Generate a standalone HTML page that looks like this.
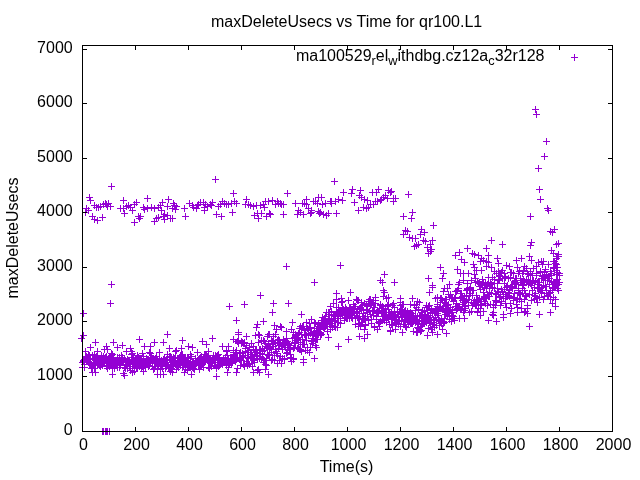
<!DOCTYPE html>
<html><head><meta charset="utf-8"><title>maxDeleteUsecs vs Time for qr100.L1</title>
<style>
html,body{margin:0;padding:0;background:#fff;}
svg{display:block;will-change:transform;}
text{font-family:"Liberation Sans",sans-serif;font-size:16px;fill:#000;}
</style></head><body>
<svg width="640" height="480" viewBox="0 0 640 480">
<rect width="640" height="480" fill="#fff"/>

<text x="72.7" y="435.0" text-anchor="end">0</text>
<text x="72.7" y="380.0" text-anchor="end">1000</text>
<text x="72.7" y="325.0" text-anchor="end">2000</text>
<text x="72.7" y="271.0" text-anchor="end">3000</text>
<text x="72.7" y="216.0" text-anchor="end">4000</text>
<text x="72.7" y="162.0" text-anchor="end">5000</text>
<text x="72.7" y="107.0" text-anchor="end">6000</text>
<text x="72.7" y="53.0" text-anchor="end">7000</text>
<text x="83.5" y="450" text-anchor="middle">0</text>
<text x="136.5" y="450" text-anchor="middle">200</text>
<text x="189.5" y="450" text-anchor="middle">400</text>
<text x="242.5" y="450" text-anchor="middle">600</text>
<text x="295.5" y="450" text-anchor="middle">800</text>
<text x="348.5" y="450" text-anchor="middle">1000</text>
<text x="401.5" y="450" text-anchor="middle">1200</text>
<text x="454.5" y="450" text-anchor="middle">1400</text>
<text x="507.5" y="450" text-anchor="middle">1600</text>
<text x="560.5" y="450" text-anchor="middle">1800</text>
<text x="613.5" y="450" text-anchor="middle">2000</text>
<text x="346.6" y="27" text-anchor="middle">maxDeleteUsecs vs Time for qr100.L1</text>
<text x="346.5" y="472" text-anchor="middle">Time(s)</text>
<text transform="translate(17.5,238) rotate(-90)" text-anchor="middle">maxDeleteUsecs</text>
<text x="544.5" y="60.5" text-anchor="end">ma100529<tspan font-size="12.8px" dy="4.8">r</tspan><tspan dy="-4.8">el</tspan><tspan font-size="12.8px" dy="4.8">w</tspan><tspan dy="-4.8">ithdbg.cz12a</tspan><tspan font-size="12.8px" dy="4.8">c</tspan><tspan dy="-4.8">32r128</tspan></text>
<path stroke="#9400d3" stroke-width="1" fill="none" d="M571.0 57.5h7M574.5 54.0v7M108.0 186.5h7M111.5 183.0v7M86.0 197.5h7M89.5 194.0v7M87.0 200.5h7M90.5 197.0v7M83.0 208.5h7M86.5 205.0v7M82.0 212.5h7M85.5 209.0v7M85.0 210.5h7M88.5 207.0v7M89.0 216.5h7M92.5 213.0v7M91.0 219.5h7M94.5 216.0v7M94.0 220.5h7M97.5 217.0v7M99.0 217.5h7M102.5 214.0v7M91.0 205.5h7M94.5 202.0v7M93.0 207.5h7M96.5 204.0v7M95.0 207.5h7M98.5 204.0v7M97.0 206.5h7M100.5 203.0v7M100.0 204.5h7M103.5 201.0v7M102.0 203.5h7M105.5 200.0v7M103.0 204.5h7M106.5 201.0v7M105.0 203.5h7M108.5 200.0v7M107.0 206.5h7M110.5 203.0v7M104.0 206.5h7M107.5 203.0v7M120.0 200.5h7M123.5 197.0v7M117.0 208.5h7M120.5 205.0v7M120.0 208.5h7M123.5 205.0v7M121.0 213.5h7M124.5 210.0v7M123.0 206.5h7M126.5 203.0v7M125.0 205.5h7M128.5 202.0v7M127.0 207.5h7M130.5 204.0v7M129.0 210.5h7M132.5 207.0v7M131.0 204.5h7M134.5 201.0v7M133.0 202.5h7M136.5 199.0v7M131.0 222.5h7M134.5 219.0v7M135.0 216.5h7M138.5 213.0v7M137.0 216.5h7M140.5 213.0v7M136.0 218.5h7M139.5 215.0v7M144.0 198.5h7M147.5 195.0v7M140.0 207.5h7M143.5 204.0v7M141.0 209.5h7M144.5 206.0v7M144.0 208.5h7M147.5 205.0v7M148.0 207.5h7M151.5 204.0v7M151.0 208.5h7M154.5 205.0v7M155.0 207.5h7M158.5 204.0v7M151.0 221.5h7M154.5 218.0v7M153.0 218.5h7M156.5 215.0v7M155.0 217.5h7M158.5 214.0v7M212.0 179.5h7M215.5 176.0v7M230.0 193.5h7M233.5 190.0v7M165.0 199.5h7M168.5 196.0v7M159.0 202.5h7M162.5 199.0v7M157.0 205.5h7M160.5 202.0v7M164.0 206.5h7M167.5 203.0v7M170.0 203.5h7M173.5 200.0v7M171.0 205.5h7M174.5 202.0v7M173.0 206.5h7M176.5 203.0v7M169.0 208.5h7M172.5 205.0v7M172.0 209.5h7M175.5 206.0v7M158.0 210.5h7M161.5 207.0v7M161.0 214.5h7M164.5 211.0v7M160.0 216.5h7M163.5 213.0v7M164.0 215.5h7M167.5 212.0v7M161.0 219.5h7M164.5 216.0v7M167.0 218.5h7M170.5 215.0v7M169.0 218.5h7M172.5 215.0v7M181.0 208.5h7M184.5 205.0v7M182.0 216.5h7M185.5 213.0v7M186.0 203.5h7M189.5 200.0v7M189.0 205.5h7M192.5 202.0v7M190.0 207.5h7M193.5 204.0v7M193.0 208.5h7M196.5 205.0v7M194.0 205.5h7M197.5 202.0v7M195.0 204.5h7M198.5 201.0v7M197.0 202.5h7M200.5 199.0v7M200.0 202.5h7M203.5 199.0v7M202.0 204.5h7M205.5 201.0v7M204.0 206.5h7M207.5 203.0v7M201.0 210.5h7M204.5 207.0v7M201.0 207.5h7M204.5 204.0v7M207.0 204.5h7M210.5 201.0v7M209.0 202.5h7M212.5 199.0v7M208.0 205.5h7M211.5 202.0v7M213.0 214.5h7M216.5 211.0v7M218.0 216.5h7M221.5 213.0v7M215.0 206.5h7M218.5 203.0v7M217.0 204.5h7M220.5 201.0v7M219.0 201.5h7M222.5 198.0v7M221.0 203.5h7M224.5 200.0v7M223.0 204.5h7M226.5 201.0v7M225.0 204.5h7M228.5 201.0v7M228.0 203.5h7M231.5 200.0v7M231.0 201.5h7M234.5 198.0v7M233.0 203.5h7M236.5 200.0v7M229.0 212.5h7M232.5 209.0v7M284.0 193.5h7M287.5 190.0v7M243.0 199.5h7M246.5 196.0v7M242.0 204.5h7M245.5 201.0v7M245.0 204.5h7M248.5 201.0v7M247.0 205.5h7M250.5 202.0v7M250.0 206.5h7M253.5 203.0v7M253.0 205.5h7M256.5 202.0v7M257.0 205.5h7M260.5 202.0v7M260.0 204.5h7M263.5 201.0v7M261.0 207.5h7M264.5 204.0v7M262.0 201.5h7M265.5 198.0v7M265.0 201.5h7M268.5 198.0v7M269.0 200.5h7M272.5 197.0v7M272.0 204.5h7M275.5 201.0v7M274.0 201.5h7M277.5 198.0v7M275.0 203.5h7M278.5 200.0v7M277.0 203.5h7M280.5 200.0v7M278.0 204.5h7M281.5 201.0v7M280.0 204.5h7M283.5 201.0v7M251.0 215.5h7M254.5 212.0v7M254.0 213.5h7M257.5 210.0v7M255.0 218.5h7M258.5 215.0v7M258.0 213.5h7M261.5 210.0v7M263.0 216.5h7M266.5 213.0v7M266.0 213.5h7M269.5 210.0v7M267.0 214.5h7M270.5 211.0v7M280.0 214.5h7M283.5 211.0v7M292.0 203.5h7M295.5 200.0v7M294.0 214.5h7M297.5 211.0v7M295.0 210.5h7M298.5 207.0v7M297.0 212.5h7M300.5 209.0v7M300.0 214.5h7M303.5 211.0v7M299.0 203.5h7M302.5 200.0v7M303.0 199.5h7M306.5 196.0v7M301.0 203.5h7M304.5 200.0v7M303.0 204.5h7M306.5 201.0v7M305.0 208.5h7M308.5 205.0v7M308.0 210.5h7M311.5 207.0v7M307.0 213.5h7M310.5 210.0v7M308.0 212.5h7M311.5 209.0v7M310.0 201.5h7M313.5 198.0v7M312.0 201.5h7M315.5 198.0v7M314.0 203.5h7M317.5 200.0v7M315.0 197.5h7M318.5 194.0v7M315.0 211.5h7M318.5 208.0v7M316.0 213.5h7M319.5 210.0v7M331.0 181.5h7M334.5 178.0v7M318.0 197.5h7M321.5 194.0v7M319.0 204.5h7M322.5 201.0v7M322.0 203.5h7M325.5 200.0v7M317.0 212.5h7M320.5 209.0v7M320.0 214.5h7M323.5 211.0v7M323.0 215.5h7M326.5 212.0v7M325.0 213.5h7M328.5 210.0v7M333.0 213.5h7M336.5 210.0v7M327.0 201.5h7M330.5 198.0v7M328.0 201.5h7M331.5 198.0v7M328.0 203.5h7M331.5 200.0v7M332.0 201.5h7M335.5 198.0v7M335.0 199.5h7M338.5 196.0v7M339.0 200.5h7M342.5 197.0v7M340.0 192.5h7M343.5 189.0v7M349.0 189.5h7M352.5 186.0v7M348.0 193.5h7M351.5 190.0v7M351.0 202.5h7M354.5 199.0v7M357.0 190.5h7M360.5 187.0v7M356.0 195.5h7M359.5 192.0v7M358.0 197.5h7M361.5 194.0v7M361.0 199.5h7M364.5 196.0v7M364.0 200.5h7M367.5 197.0v7M355.0 210.5h7M358.5 207.0v7M360.0 207.5h7M363.5 204.0v7M363.0 208.5h7M366.5 205.0v7M365.0 207.5h7M368.5 204.0v7M367.0 204.5h7M370.5 201.0v7M370.0 204.5h7M373.5 201.0v7M372.0 201.5h7M375.5 198.0v7M374.0 201.5h7M377.5 198.0v7M377.0 200.5h7M380.5 197.0v7M378.0 199.5h7M381.5 196.0v7M380.0 197.5h7M383.5 194.0v7M382.0 195.5h7M385.5 192.0v7M384.0 198.5h7M387.5 195.0v7M385.0 190.5h7M388.5 187.0v7M387.0 192.5h7M390.5 189.0v7M388.0 191.5h7M391.5 188.0v7M390.0 198.5h7M393.5 195.0v7M390.0 201.5h7M393.5 198.0v7M392.0 198.5h7M395.5 195.0v7M369.0 192.5h7M372.5 189.0v7M373.0 192.5h7M376.5 189.0v7M375.0 189.5h7M378.5 186.0v7M405.0 194.5h7M408.5 191.0v7M409.0 212.5h7M412.5 209.0v7M408.0 218.5h7M411.5 215.0v7M400.0 216.5h7M403.5 213.0v7M430.0 225.5h7M433.5 222.0v7M402.0 230.5h7M405.5 227.0v7M404.0 231.5h7M407.5 228.0v7M400.0 234.5h7M403.5 231.0v7M418.0 229.5h7M421.5 226.0v7M421.0 232.5h7M424.5 229.0v7M417.0 234.5h7M420.5 231.0v7M406.0 237.5h7M409.5 234.0v7M409.0 238.5h7M412.5 235.0v7M412.0 238.5h7M415.5 235.0v7M420.0 240.5h7M423.5 237.0v7M422.0 241.5h7M425.5 238.0v7M429.0 240.5h7M432.5 237.0v7M415.0 244.5h7M418.5 241.0v7M413.0 245.5h7M416.5 242.0v7M411.0 246.5h7M414.5 243.0v7M427.0 244.5h7M430.5 241.0v7M424.0 247.5h7M427.5 244.0v7M428.0 249.5h7M431.5 246.0v7M427.0 251.5h7M430.5 248.0v7M425.0 253.5h7M428.5 250.0v7M464.0 248.5h7M467.5 245.0v7M456.0 252.5h7M459.5 249.0v7M452.0 255.5h7M455.5 252.0v7M469.0 253.5h7M472.5 250.0v7M471.0 254.5h7M474.5 251.0v7M475.0 255.5h7M478.5 252.0v7M458.0 259.5h7M461.5 256.0v7M461.0 262.5h7M464.5 259.0v7M437.0 267.5h7M440.5 264.0v7M440.0 273.5h7M443.5 270.0v7M454.0 269.5h7M457.5 266.0v7M470.0 264.5h7M473.5 261.0v7M471.0 267.5h7M474.5 264.0v7M473.0 270.5h7M476.5 267.0v7M457.0 273.5h7M460.5 270.0v7M460.0 273.5h7M463.5 270.0v7M465.0 273.5h7M468.5 270.0v7M477.0 261.5h7M480.5 258.0v7M527.0 216.5h7M530.5 213.0v7M551.0 229.5h7M554.5 226.0v7M547.0 231.5h7M550.5 228.0v7M549.0 232.5h7M552.5 229.0v7M488.0 240.5h7M491.5 237.0v7M499.0 244.5h7M502.5 241.0v7M483.0 248.5h7M486.5 245.0v7M485.0 255.5h7M488.5 252.0v7M528.0 242.5h7M531.5 239.0v7M527.0 245.5h7M530.5 242.0v7M553.0 244.5h7M556.5 241.0v7M555.0 243.5h7M558.5 240.0v7M548.0 250.5h7M551.5 247.0v7M550.0 253.5h7M553.5 250.0v7M478.0 258.5h7M481.5 255.0v7M480.0 260.5h7M483.5 257.0v7M483.0 261.5h7M486.5 258.0v7M485.0 262.5h7M488.5 259.0v7M494.0 258.5h7M497.5 255.0v7M495.0 263.5h7M498.5 260.0v7M488.0 267.5h7M491.5 264.0v7M483.0 266.5h7M486.5 263.0v7M478.0 270.5h7M481.5 267.0v7M513.0 260.5h7M516.5 257.0v7M518.0 258.5h7M521.5 255.0v7M526.0 256.5h7M529.5 253.0v7M528.0 260.5h7M531.5 257.0v7M503.0 265.5h7M506.5 262.0v7M506.0 266.5h7M509.5 263.0v7M514.0 267.5h7M517.5 264.0v7M521.0 266.5h7M524.5 263.0v7M523.0 268.5h7M526.5 265.0v7M520.0 270.5h7M523.5 267.0v7M527.0 271.5h7M530.5 268.0v7M535.0 262.5h7M538.5 259.0v7M538.0 261.5h7M541.5 258.0v7M540.0 261.5h7M543.5 258.0v7M539.0 264.5h7M542.5 261.0v7M545.0 264.5h7M548.5 261.0v7M550.0 261.5h7M553.5 258.0v7M553.0 258.5h7M556.5 255.0v7M555.0 256.5h7M558.5 253.0v7M552.0 263.5h7M555.5 260.0v7M550.0 267.5h7M553.5 264.0v7M553.0 270.5h7M556.5 267.0v7M493.0 273.5h7M496.5 270.0v7M498.0 272.5h7M501.5 269.0v7M501.0 273.5h7M504.5 270.0v7M507.0 272.5h7M510.5 269.0v7M510.0 273.5h7M513.5 270.0v7M515.0 273.5h7M518.5 270.0v7M519.0 273.5h7M522.5 270.0v7M524.0 273.5h7M527.5 270.0v7M533.0 273.5h7M536.5 270.0v7M541.0 272.5h7M544.5 269.0v7M547.0 271.5h7M550.5 268.0v7M532.0 109.5h7M535.5 106.0v7M533.0 114.5h7M536.5 111.0v7M543.0 141.5h7M546.5 138.0v7M541.0 156.5h7M544.5 153.0v7M535.0 168.5h7M538.5 165.0v7M536.0 189.5h7M539.5 186.0v7M537.0 199.5h7M540.5 196.0v7M544.0 208.5h7M547.5 205.0v7M545.0 210.5h7M548.5 207.0v7M548.0 250.5h7M551.5 247.0v7M550.0 253.5h7M553.5 250.0v7M555.0 254.5h7M558.5 251.0v7M554.0 256.5h7M557.5 253.0v7M553.0 258.5h7M556.5 255.0v7M551.0 261.5h7M554.5 258.0v7M553.0 264.5h7M556.5 261.0v7M554.0 267.5h7M557.5 264.0v7M551.0 268.5h7M554.5 265.0v7M556.0 273.5h7M559.5 270.0v7M108.0 284.5h7M111.5 281.0v7M107.0 303.5h7M110.5 300.0v7M80.0 313.5h7M83.5 310.0v7M80.0 335.5h7M83.5 332.0v7M78.0 338.5h7M81.5 335.0v7M136.0 339.5h7M139.5 336.0v7M226.0 306.5h7M229.5 303.0v7M233.0 320.5h7M236.5 317.0v7M235.0 332.5h7M238.5 329.0v7M92.0 342.5h7M95.5 339.0v7M103.0 346.5h7M106.5 343.0v7M110.0 342.5h7M113.5 339.0v7M114.0 347.5h7M117.5 344.0v7M119.0 345.5h7M122.5 342.0v7M136.0 339.5h7M139.5 336.0v7M141.0 346.5h7M144.5 343.0v7M147.0 346.5h7M150.5 343.0v7M151.0 342.5h7M154.5 339.0v7M160.0 342.5h7M163.5 339.0v7M164.0 334.5h7M167.5 331.0v7M166.0 348.5h7M169.5 345.0v7M179.0 340.5h7M182.5 337.0v7M178.0 348.5h7M181.5 345.0v7M185.0 346.5h7M188.5 343.0v7M189.0 347.5h7M192.5 344.0v7M199.0 341.5h7M202.5 338.0v7M203.0 344.5h7M206.5 341.0v7M209.0 338.5h7M212.5 335.0v7M219.0 346.5h7M222.5 343.0v7M225.0 346.5h7M228.5 343.0v7M230.0 339.5h7M233.5 336.0v7M235.0 340.5h7M238.5 337.0v7M94.0 351.5h7M97.5 348.0v7M128.0 351.5h7M131.5 348.0v7M173.0 350.5h7M176.5 347.0v7M194.0 352.5h7M197.5 349.0v7M205.0 351.5h7M208.5 348.0v7M89.0 372.5h7M92.5 369.0v7M109.0 374.5h7M112.5 371.0v7M129.0 372.5h7M132.5 369.0v7M154.0 374.5h7M157.5 371.0v7M160.0 374.5h7M163.5 371.0v7M169.0 372.5h7M172.5 369.0v7M181.0 372.5h7M184.5 369.0v7M213.0 376.5h7M216.5 373.0v7M224.0 372.5h7M227.5 369.0v7M233.0 372.5h7M236.5 369.0v7M311.0 282.5h7M314.5 279.0v7M257.0 295.5h7M260.5 292.0v7M241.0 304.5h7M244.5 301.0v7M270.0 303.5h7M273.5 300.0v7M285.0 303.5h7M288.5 300.0v7M269.0 312.5h7M272.5 309.0v7M298.0 314.5h7M301.5 311.0v7M260.0 321.5h7M263.5 318.0v7M254.0 324.5h7M257.5 321.0v7M379.0 282.5h7M382.5 279.0v7M391.0 282.5h7M394.5 279.0v7M380.0 290.5h7M383.5 287.0v7M347.0 292.5h7M350.5 289.0v7M333.0 293.5h7M336.5 290.0v7M335.0 346.5h7M338.5 343.0v7M345.0 339.5h7M348.5 336.0v7M361.0 338.5h7M364.5 335.0v7M356.0 336.5h7M359.5 333.0v7M364.0 334.5h7M367.5 331.0v7M300.0 362.5h7M303.5 359.0v7M265.0 374.5h7M268.5 371.0v7M256.0 372.5h7M259.5 369.0v7M250.0 372.5h7M253.5 369.0v7M241.0 366.5h7M244.5 363.0v7M311.0 358.5h7M314.5 355.0v7M290.0 359.5h7M293.5 356.0v7M281.0 359.5h7M284.5 356.0v7M274.0 363.5h7M277.5 360.0v7M425.0 278.5h7M428.5 275.0v7M439.0 278.5h7M442.5 275.0v7M429.0 285.5h7M432.5 282.0v7M429.0 287.5h7M432.5 284.0v7M426.0 292.5h7M429.5 289.0v7M441.0 288.5h7M444.5 285.0v7M446.0 284.5h7M449.5 281.0v7M409.0 298.5h7M412.5 295.0v7M414.0 301.5h7M417.5 298.0v7M407.0 304.5h7M410.5 301.0v7M461.0 318.5h7M464.5 315.0v7M474.0 311.5h7M477.5 308.0v7M397.0 298.5h7M400.5 295.0v7M526.0 326.5h7M529.5 323.0v7M536.0 314.5h7M539.5 311.0v7M547.0 312.5h7M550.5 309.0v7M552.0 306.5h7M555.5 303.0v7M485.0 320.5h7M488.5 317.0v7M493.0 321.5h7M496.5 318.0v7M461.0 318.5h7M464.5 315.0v7M443.0 333.5h7M446.5 330.0v7M434.0 334.5h7M437.5 331.0v7M413.0 332.5h7M416.5 329.0v7M399.0 332.5h7M402.5 329.0v7M474.0 312.5h7M477.5 309.0v7M480.0 311.5h7M483.5 308.0v7M490.0 312.5h7M493.5 309.0v7M500.0 314.5h7M503.5 311.0v7M507.0 313.5h7M510.5 310.0v7M514.0 312.5h7M517.5 309.0v7M521.0 312.5h7M524.5 309.0v7M283.0 266.5h7M286.5 263.0v7M337.0 265.5h7M340.5 262.0v7M381.0 274.5h7M384.5 271.0v7M377.0 280.5h7M380.5 277.0v7M381.0 292.5h7M384.5 289.0v7M380.0 296.5h7M383.5 293.0v7M383.0 298.5h7M386.5 295.0v7M385.0 297.5h7M388.5 294.0v7M99.0 431.5h7M102.5 428.0v7M100.0 431.5h7M103.5 428.0v7M102.0 431.5h7M105.5 428.0v7M103.0 431.5h7M106.5 428.0v7M104.0 431.5h7M107.5 428.0v7M106.0 431.5h7M109.5 428.0v7M79.0 367.5h7M82.5 364.0v7M79.0 362.5h7M82.5 359.0v7M80.0 360.5h7M83.5 357.0v7M80.0 360.5h7M83.5 357.0v7M80.0 361.5h7M83.5 358.0v7M81.0 359.5h7M84.5 356.0v7M81.0 364.5h7M84.5 361.0v7M81.0 367.5h7M84.5 364.0v7M82.0 359.5h7M85.5 356.0v7M82.0 351.5h7M85.5 348.0v7M82.0 357.5h7M85.5 354.0v7M83.0 360.5h7M86.5 357.0v7M83.0 358.5h7M86.5 355.0v7M83.0 356.5h7M86.5 353.0v7M84.0 358.5h7M87.5 355.0v7M84.0 360.5h7M87.5 357.0v7M84.0 357.5h7M87.5 354.0v7M85.0 359.5h7M88.5 356.0v7M85.0 358.5h7M88.5 355.0v7M85.0 354.5h7M88.5 351.0v7M86.0 355.5h7M89.5 352.0v7M86.0 363.5h7M89.5 360.0v7M86.0 359.5h7M89.5 356.0v7M87.0 359.5h7M90.5 356.0v7M87.0 347.5h7M90.5 344.0v7M87.0 359.5h7M90.5 356.0v7M88.0 365.5h7M91.5 362.0v7M88.0 368.5h7M91.5 365.0v7M88.0 364.5h7M91.5 361.0v7M89.0 355.5h7M92.5 352.0v7M89.0 367.5h7M92.5 364.0v7M89.0 366.5h7M92.5 363.0v7M90.0 359.5h7M93.5 356.0v7M90.0 362.5h7M93.5 359.0v7M90.0 362.5h7M93.5 359.0v7M91.0 354.5h7M94.5 351.0v7M91.0 364.5h7M94.5 361.0v7M91.0 368.5h7M94.5 365.0v7M92.0 360.5h7M95.5 357.0v7M92.0 372.5h7M95.5 369.0v7M92.0 363.5h7M95.5 360.0v7M93.0 362.5h7M96.5 359.0v7M93.0 356.5h7M96.5 353.0v7M93.0 362.5h7M96.5 359.0v7M94.0 361.5h7M97.5 358.0v7M94.0 365.5h7M97.5 362.0v7M94.0 358.5h7M97.5 355.0v7M95.0 362.5h7M98.5 359.0v7M95.0 364.5h7M98.5 361.0v7M95.0 364.5h7M98.5 361.0v7M96.0 365.5h7M99.5 362.0v7M96.0 362.5h7M99.5 359.0v7M96.0 361.5h7M99.5 358.0v7M97.0 361.5h7M100.5 358.0v7M97.0 363.5h7M100.5 360.0v7M97.0 366.5h7M100.5 363.0v7M98.0 357.5h7M101.5 354.0v7M98.0 364.5h7M101.5 361.0v7M98.0 355.5h7M101.5 352.0v7M99.0 363.5h7M102.5 360.0v7M99.0 365.5h7M102.5 362.0v7M99.0 360.5h7M102.5 357.0v7M100.0 356.5h7M103.5 353.0v7M100.0 357.5h7M103.5 354.0v7M100.0 357.5h7M103.5 354.0v7M101.0 349.5h7M104.5 346.0v7M101.0 360.5h7M104.5 357.0v7M101.0 360.5h7M104.5 357.0v7M102.0 360.5h7M105.5 357.0v7M102.0 357.5h7M105.5 354.0v7M102.0 358.5h7M105.5 355.0v7M103.0 366.5h7M106.5 363.0v7M103.0 362.5h7M106.5 359.0v7M103.0 356.5h7M106.5 353.0v7M104.0 368.5h7M107.5 365.0v7M104.0 362.5h7M107.5 359.0v7M104.0 349.5h7M107.5 346.0v7M105.0 365.5h7M108.5 362.0v7M105.0 361.5h7M108.5 358.0v7M105.0 358.5h7M108.5 355.0v7M105.0 361.5h7M108.5 358.0v7M106.0 361.5h7M109.5 358.0v7M106.0 356.5h7M109.5 353.0v7M106.0 366.5h7M109.5 363.0v7M107.0 364.5h7M110.5 361.0v7M107.0 359.5h7M110.5 356.0v7M107.0 361.5h7M110.5 358.0v7M108.0 355.5h7M111.5 352.0v7M108.0 353.5h7M111.5 350.0v7M108.0 360.5h7M111.5 357.0v7M109.0 367.5h7M112.5 364.0v7M109.0 363.5h7M112.5 360.0v7M109.0 354.5h7M112.5 351.0v7M110.0 358.5h7M113.5 355.0v7M110.0 363.5h7M113.5 360.0v7M110.0 359.5h7M113.5 356.0v7M111.0 361.5h7M114.5 358.0v7M111.0 362.5h7M114.5 359.0v7M111.0 368.5h7M114.5 365.0v7M112.0 365.5h7M115.5 362.0v7M112.0 360.5h7M115.5 357.0v7M112.0 362.5h7M115.5 359.0v7M113.0 361.5h7M116.5 358.0v7M113.0 363.5h7M116.5 360.0v7M113.0 365.5h7M116.5 362.0v7M114.0 360.5h7M117.5 357.0v7M114.0 357.5h7M117.5 354.0v7M114.0 367.5h7M117.5 364.0v7M115.0 360.5h7M118.5 357.0v7M115.0 362.5h7M118.5 359.0v7M115.0 362.5h7M118.5 359.0v7M116.0 360.5h7M119.5 357.0v7M116.0 357.5h7M119.5 354.0v7M116.0 367.5h7M119.5 364.0v7M117.0 361.5h7M120.5 358.0v7M117.0 363.5h7M120.5 360.0v7M117.0 365.5h7M120.5 362.0v7M118.0 362.5h7M121.5 359.0v7M118.0 360.5h7M121.5 357.0v7M118.0 355.5h7M121.5 352.0v7M119.0 362.5h7M122.5 359.0v7M119.0 357.5h7M122.5 354.0v7M119.0 361.5h7M122.5 358.0v7M120.0 373.5h7M123.5 370.0v7M120.0 360.5h7M123.5 357.0v7M120.0 362.5h7M123.5 359.0v7M121.0 359.5h7M124.5 356.0v7M121.0 375.5h7M124.5 372.0v7M121.0 367.5h7M124.5 364.0v7M122.0 368.5h7M125.5 365.0v7M122.0 362.5h7M125.5 359.0v7M122.0 361.5h7M125.5 358.0v7M123.0 351.5h7M126.5 348.0v7M123.0 364.5h7M126.5 361.0v7M123.0 361.5h7M126.5 358.0v7M124.0 368.5h7M127.5 365.0v7M124.0 366.5h7M127.5 363.0v7M124.0 359.5h7M127.5 356.0v7M125.0 363.5h7M128.5 360.0v7M125.0 360.5h7M128.5 357.0v7M125.0 360.5h7M128.5 357.0v7M126.0 364.5h7M129.5 361.0v7M126.0 366.5h7M129.5 363.0v7M126.0 360.5h7M129.5 357.0v7M127.0 363.5h7M130.5 360.0v7M127.0 348.5h7M130.5 345.0v7M127.0 370.5h7M130.5 367.0v7M128.0 360.5h7M131.5 357.0v7M128.0 360.5h7M131.5 357.0v7M128.0 354.5h7M131.5 351.0v7M129.0 368.5h7M132.5 365.0v7M129.0 353.5h7M132.5 350.0v7M129.0 362.5h7M132.5 359.0v7M130.0 357.5h7M133.5 354.0v7M130.0 363.5h7M133.5 360.0v7M130.0 359.5h7M133.5 356.0v7M131.0 361.5h7M134.5 358.0v7M131.0 371.5h7M134.5 368.0v7M131.0 366.5h7M134.5 363.0v7M132.0 364.5h7M135.5 361.0v7M132.0 358.5h7M135.5 355.0v7M132.0 360.5h7M135.5 357.0v7M133.0 365.5h7M136.5 362.0v7M133.0 367.5h7M136.5 364.0v7M133.0 358.5h7M136.5 355.0v7M134.0 360.5h7M137.5 357.0v7M134.0 367.5h7M137.5 364.0v7M134.0 355.5h7M137.5 352.0v7M135.0 361.5h7M138.5 358.0v7M135.0 357.5h7M138.5 354.0v7M135.0 364.5h7M138.5 361.0v7M136.0 364.5h7M139.5 361.0v7M136.0 359.5h7M139.5 356.0v7M136.0 366.5h7M139.5 363.0v7M137.0 361.5h7M140.5 358.0v7M137.0 364.5h7M140.5 361.0v7M137.0 362.5h7M140.5 359.0v7M138.0 368.5h7M141.5 365.0v7M138.0 360.5h7M141.5 357.0v7M138.0 358.5h7M141.5 355.0v7M139.0 361.5h7M142.5 358.0v7M139.0 353.5h7M142.5 350.0v7M139.0 366.5h7M142.5 363.0v7M140.0 371.5h7M143.5 368.0v7M140.0 365.5h7M143.5 362.0v7M140.0 356.5h7M143.5 353.0v7M141.0 362.5h7M144.5 359.0v7M141.0 361.5h7M144.5 358.0v7M141.0 361.5h7M144.5 358.0v7M142.0 367.5h7M145.5 364.0v7M142.0 361.5h7M145.5 358.0v7M142.0 362.5h7M145.5 359.0v7M143.0 358.5h7M146.5 355.0v7M143.0 362.5h7M146.5 359.0v7M143.0 358.5h7M146.5 355.0v7M144.0 359.5h7M147.5 356.0v7M144.0 364.5h7M147.5 361.0v7M144.0 359.5h7M147.5 356.0v7M145.0 366.5h7M148.5 363.0v7M145.0 359.5h7M148.5 356.0v7M145.0 366.5h7M148.5 363.0v7M146.0 352.5h7M149.5 349.0v7M146.0 362.5h7M149.5 359.0v7M146.0 365.5h7M149.5 362.0v7M147.0 358.5h7M150.5 355.0v7M147.0 362.5h7M150.5 359.0v7M147.0 353.5h7M150.5 350.0v7M148.0 357.5h7M151.5 354.0v7M148.0 359.5h7M151.5 356.0v7M148.0 360.5h7M151.5 357.0v7M149.0 358.5h7M152.5 355.0v7M149.0 366.5h7M152.5 363.0v7M149.0 362.5h7M152.5 359.0v7M150.0 358.5h7M153.5 355.0v7M150.0 369.5h7M153.5 366.0v7M150.0 359.5h7M153.5 356.0v7M151.0 368.5h7M154.5 365.0v7M151.0 363.5h7M154.5 360.0v7M151.0 359.5h7M154.5 356.0v7M152.0 358.5h7M155.5 355.0v7M152.0 366.5h7M155.5 363.0v7M152.0 366.5h7M155.5 363.0v7M153.0 361.5h7M156.5 358.0v7M153.0 362.5h7M156.5 359.0v7M153.0 356.5h7M156.5 353.0v7M154.0 361.5h7M157.5 358.0v7M154.0 359.5h7M157.5 356.0v7M154.0 368.5h7M157.5 365.0v7M155.0 366.5h7M158.5 363.0v7M155.0 366.5h7M158.5 363.0v7M155.0 362.5h7M158.5 359.0v7M156.0 363.5h7M159.5 360.0v7M156.0 352.5h7M159.5 349.0v7M156.0 360.5h7M159.5 357.0v7M157.0 374.5h7M160.5 371.0v7M157.0 361.5h7M160.5 358.0v7M157.0 369.5h7M160.5 366.0v7M158.0 365.5h7M161.5 362.0v7M158.0 360.5h7M161.5 357.0v7M158.0 364.5h7M161.5 361.0v7M159.0 363.5h7M162.5 360.0v7M159.0 361.5h7M162.5 358.0v7M159.0 368.5h7M162.5 365.0v7M159.0 363.5h7M162.5 360.0v7M160.0 361.5h7M163.5 358.0v7M160.0 360.5h7M163.5 357.0v7M160.0 359.5h7M163.5 356.0v7M161.0 358.5h7M164.5 355.0v7M161.0 359.5h7M164.5 356.0v7M161.0 363.5h7M164.5 360.0v7M162.0 368.5h7M165.5 365.0v7M162.0 366.5h7M165.5 363.0v7M162.0 360.5h7M165.5 357.0v7M163.0 360.5h7M166.5 357.0v7M163.0 364.5h7M166.5 361.0v7M163.0 366.5h7M166.5 363.0v7M164.0 354.5h7M167.5 351.0v7M164.0 362.5h7M167.5 359.0v7M164.0 364.5h7M167.5 361.0v7M165.0 365.5h7M168.5 362.0v7M165.0 366.5h7M168.5 363.0v7M165.0 367.5h7M168.5 364.0v7M166.0 367.5h7M169.5 364.0v7M166.0 356.5h7M169.5 353.0v7M166.0 359.5h7M169.5 356.0v7M167.0 371.5h7M170.5 368.0v7M167.0 365.5h7M170.5 362.0v7M167.0 356.5h7M170.5 353.0v7M168.0 368.5h7M171.5 365.0v7M168.0 357.5h7M171.5 354.0v7M168.0 365.5h7M171.5 362.0v7M169.0 365.5h7M172.5 362.0v7M169.0 361.5h7M172.5 358.0v7M169.0 360.5h7M172.5 357.0v7M170.0 357.5h7M173.5 354.0v7M170.0 365.5h7M173.5 362.0v7M170.0 363.5h7M173.5 360.0v7M171.0 358.5h7M174.5 355.0v7M171.0 363.5h7M174.5 360.0v7M171.0 362.5h7M174.5 359.0v7M172.0 351.5h7M175.5 348.0v7M172.0 357.5h7M175.5 354.0v7M172.0 362.5h7M175.5 359.0v7M173.0 369.5h7M176.5 366.0v7M173.0 364.5h7M176.5 361.0v7M173.0 366.5h7M176.5 363.0v7M174.0 365.5h7M177.5 362.0v7M174.0 360.5h7M177.5 357.0v7M174.0 363.5h7M177.5 360.0v7M175.0 367.5h7M178.5 364.0v7M175.0 358.5h7M178.5 355.0v7M175.0 361.5h7M178.5 358.0v7M176.0 363.5h7M179.5 360.0v7M176.0 362.5h7M179.5 359.0v7M176.0 357.5h7M179.5 354.0v7M177.0 356.5h7M180.5 353.0v7M177.0 355.5h7M180.5 352.0v7M177.0 365.5h7M180.5 362.0v7M178.0 358.5h7M181.5 355.0v7M178.0 356.5h7M181.5 353.0v7M178.0 355.5h7M181.5 352.0v7M179.0 367.5h7M182.5 364.0v7M179.0 354.5h7M182.5 351.0v7M179.0 362.5h7M182.5 359.0v7M180.0 365.5h7M183.5 362.0v7M180.0 362.5h7M183.5 359.0v7M180.0 357.5h7M183.5 354.0v7M181.0 364.5h7M184.5 361.0v7M181.0 358.5h7M184.5 355.0v7M181.0 362.5h7M184.5 359.0v7M182.0 364.5h7M185.5 361.0v7M182.0 369.5h7M185.5 366.0v7M182.0 357.5h7M185.5 354.0v7M183.0 362.5h7M186.5 359.0v7M183.0 361.5h7M186.5 358.0v7M183.0 363.5h7M186.5 360.0v7M184.0 363.5h7M187.5 360.0v7M184.0 357.5h7M187.5 354.0v7M184.0 370.5h7M187.5 367.0v7M185.0 358.5h7M188.5 355.0v7M185.0 365.5h7M188.5 362.0v7M185.0 365.5h7M188.5 362.0v7M186.0 367.5h7M189.5 364.0v7M186.0 363.5h7M189.5 360.0v7M186.0 367.5h7M189.5 364.0v7M187.0 354.5h7M190.5 351.0v7M187.0 362.5h7M190.5 359.0v7M187.0 366.5h7M190.5 363.0v7M188.0 356.5h7M191.5 353.0v7M188.0 374.5h7M191.5 371.0v7M188.0 364.5h7M191.5 361.0v7M189.0 367.5h7M192.5 364.0v7M189.0 361.5h7M192.5 358.0v7M189.0 365.5h7M192.5 362.0v7M190.0 366.5h7M193.5 363.0v7M190.0 362.5h7M193.5 359.0v7M190.0 368.5h7M193.5 365.0v7M191.0 365.5h7M194.5 362.0v7M191.0 369.5h7M194.5 366.0v7M191.0 365.5h7M194.5 362.0v7M192.0 360.5h7M195.5 357.0v7M192.0 365.5h7M195.5 362.0v7M192.0 358.5h7M195.5 355.0v7M193.0 362.5h7M196.5 359.0v7M193.0 362.5h7M196.5 359.0v7M193.0 362.5h7M196.5 359.0v7M194.0 362.5h7M197.5 359.0v7M194.0 360.5h7M197.5 357.0v7M194.0 361.5h7M197.5 358.0v7M195.0 365.5h7M198.5 362.0v7M195.0 362.5h7M198.5 359.0v7M195.0 362.5h7M198.5 359.0v7M196.0 369.5h7M199.5 366.0v7M196.0 365.5h7M199.5 362.0v7M196.0 358.5h7M199.5 355.0v7M197.0 364.5h7M200.5 361.0v7M197.0 357.5h7M200.5 354.0v7M197.0 365.5h7M200.5 362.0v7M198.0 356.5h7M201.5 353.0v7M198.0 365.5h7M201.5 362.0v7M198.0 363.5h7M201.5 360.0v7M199.0 363.5h7M202.5 360.0v7M199.0 362.5h7M202.5 359.0v7M199.0 364.5h7M202.5 361.0v7M200.0 362.5h7M203.5 359.0v7M200.0 367.5h7M203.5 364.0v7M200.0 359.5h7M203.5 356.0v7M201.0 354.5h7M204.5 351.0v7M201.0 362.5h7M204.5 359.0v7M201.0 361.5h7M204.5 358.0v7M202.0 361.5h7M205.5 358.0v7M202.0 354.5h7M205.5 351.0v7M202.0 360.5h7M205.5 357.0v7M203.0 355.5h7M206.5 352.0v7M203.0 357.5h7M206.5 354.0v7M203.0 359.5h7M206.5 356.0v7M204.0 358.5h7M207.5 355.0v7M204.0 356.5h7M207.5 353.0v7M204.0 356.5h7M207.5 353.0v7M205.0 361.5h7M208.5 358.0v7M205.0 367.5h7M208.5 364.0v7M205.0 362.5h7M208.5 359.0v7M206.0 361.5h7M209.5 358.0v7M206.0 368.5h7M209.5 365.0v7M206.0 362.5h7M209.5 359.0v7M207.0 361.5h7M210.5 358.0v7M207.0 363.5h7M210.5 360.0v7M207.0 362.5h7M210.5 359.0v7M208.0 363.5h7M211.5 360.0v7M208.0 366.5h7M211.5 363.0v7M208.0 362.5h7M211.5 359.0v7M209.0 361.5h7M212.5 358.0v7M209.0 358.5h7M212.5 355.0v7M209.0 358.5h7M212.5 355.0v7M210.0 355.5h7M213.5 352.0v7M210.0 357.5h7M213.5 354.0v7M210.0 360.5h7M213.5 357.0v7M211.0 365.5h7M214.5 362.0v7M211.0 360.5h7M214.5 357.0v7M211.0 362.5h7M214.5 359.0v7M211.0 362.5h7M214.5 359.0v7M212.0 355.5h7M215.5 352.0v7M212.0 357.5h7M215.5 354.0v7M212.0 360.5h7M215.5 357.0v7M213.0 368.5h7M216.5 365.0v7M213.0 367.5h7M216.5 364.0v7M213.0 356.5h7M216.5 353.0v7M214.0 355.5h7M217.5 352.0v7M214.0 359.5h7M217.5 356.0v7M214.0 364.5h7M217.5 361.0v7M215.0 354.5h7M218.5 351.0v7M215.0 366.5h7M218.5 363.0v7M215.0 357.5h7M218.5 354.0v7M216.0 362.5h7M219.5 359.0v7M216.0 358.5h7M219.5 355.0v7M216.0 365.5h7M219.5 362.0v7M217.0 364.5h7M220.5 361.0v7M217.0 362.5h7M220.5 359.0v7M217.0 362.5h7M220.5 359.0v7M218.0 361.5h7M221.5 358.0v7M218.0 360.5h7M221.5 357.0v7M218.0 361.5h7M221.5 358.0v7M219.0 364.5h7M222.5 361.0v7M219.0 363.5h7M222.5 360.0v7M219.0 360.5h7M222.5 357.0v7M220.0 359.5h7M223.5 356.0v7M220.0 358.5h7M223.5 355.0v7M220.0 360.5h7M223.5 357.0v7M221.0 360.5h7M224.5 357.0v7M221.0 360.5h7M224.5 357.0v7M221.0 361.5h7M224.5 358.0v7M222.0 357.5h7M225.5 354.0v7M222.0 357.5h7M225.5 354.0v7M222.0 359.5h7M225.5 356.0v7M223.0 365.5h7M226.5 362.0v7M223.0 350.5h7M226.5 347.0v7M223.0 351.5h7M226.5 348.0v7M224.0 355.5h7M227.5 352.0v7M224.0 358.5h7M227.5 355.0v7M224.0 360.5h7M227.5 357.0v7M225.0 359.5h7M228.5 356.0v7M225.0 361.5h7M228.5 358.0v7M225.0 367.5h7M228.5 364.0v7M226.0 364.5h7M229.5 361.0v7M226.0 362.5h7M229.5 359.0v7M226.0 363.5h7M229.5 360.0v7M227.0 360.5h7M230.5 357.0v7M227.0 359.5h7M230.5 356.0v7M227.0 362.5h7M230.5 359.0v7M228.0 362.5h7M231.5 359.0v7M228.0 363.5h7M231.5 360.0v7M228.0 362.5h7M231.5 359.0v7M229.0 361.5h7M232.5 358.0v7M229.0 362.5h7M232.5 359.0v7M229.0 358.5h7M232.5 355.0v7M230.0 352.5h7M233.5 349.0v7M230.0 350.5h7M233.5 347.0v7M230.0 354.5h7M233.5 351.0v7M231.0 356.5h7M234.5 353.0v7M231.0 355.5h7M234.5 352.0v7M231.0 357.5h7M234.5 354.0v7M232.0 361.5h7M235.5 358.0v7M232.0 352.5h7M235.5 349.0v7M232.0 352.5h7M235.5 349.0v7M233.0 350.5h7M236.5 347.0v7M233.0 353.5h7M236.5 350.0v7M233.0 359.5h7M236.5 356.0v7M234.0 341.5h7M237.5 338.0v7M234.0 357.5h7M237.5 354.0v7M234.0 368.5h7M237.5 365.0v7M235.0 342.5h7M238.5 339.0v7M235.0 343.5h7M238.5 340.0v7M235.0 334.5h7M238.5 331.0v7M236.0 353.5h7M239.5 350.0v7M236.0 359.5h7M239.5 356.0v7M236.0 358.5h7M239.5 355.0v7M237.0 359.5h7M240.5 356.0v7M237.0 365.5h7M240.5 362.0v7M237.0 352.5h7M240.5 349.0v7M238.0 360.5h7M241.5 357.0v7M238.0 341.5h7M241.5 338.0v7M238.0 343.5h7M241.5 340.0v7M239.0 353.5h7M242.5 350.0v7M239.0 342.5h7M242.5 339.0v7M239.0 356.5h7M242.5 353.0v7M240.0 364.5h7M243.5 361.0v7M240.0 355.5h7M243.5 352.0v7M240.0 343.5h7M243.5 340.0v7M241.0 343.5h7M244.5 340.0v7M241.0 364.5h7M244.5 361.0v7M241.0 342.5h7M244.5 339.0v7M242.0 351.5h7M245.5 348.0v7M242.0 348.5h7M245.5 345.0v7M242.0 351.5h7M245.5 348.0v7M243.0 361.5h7M246.5 358.0v7M243.0 345.5h7M246.5 342.0v7M243.0 336.5h7M246.5 333.0v7M244.0 365.5h7M247.5 362.0v7M244.0 352.5h7M247.5 349.0v7M244.0 357.5h7M247.5 354.0v7M245.0 350.5h7M248.5 347.0v7M245.0 358.5h7M248.5 355.0v7M245.0 363.5h7M248.5 360.0v7M246.0 364.5h7M249.5 361.0v7M246.0 347.5h7M249.5 344.0v7M246.0 347.5h7M249.5 344.0v7M247.0 354.5h7M250.5 351.0v7M247.0 352.5h7M250.5 349.0v7M247.0 356.5h7M250.5 353.0v7M248.0 343.5h7M251.5 340.0v7M248.0 354.5h7M251.5 351.0v7M248.0 358.5h7M251.5 355.0v7M249.0 356.5h7M252.5 353.0v7M249.0 366.5h7M252.5 363.0v7M249.0 358.5h7M252.5 355.0v7M250.0 346.5h7M253.5 343.0v7M250.0 360.5h7M253.5 357.0v7M250.0 349.5h7M253.5 346.0v7M251.0 362.5h7M254.5 359.0v7M251.0 352.5h7M254.5 349.0v7M251.0 354.5h7M254.5 351.0v7M252.0 352.5h7M255.5 349.0v7M252.0 350.5h7M255.5 347.0v7M252.0 335.5h7M255.5 332.0v7M253.0 350.5h7M256.5 347.0v7M253.0 327.5h7M256.5 324.0v7M253.0 355.5h7M256.5 352.0v7M254.0 359.5h7M257.5 356.0v7M254.0 370.5h7M257.5 367.0v7M254.0 353.5h7M257.5 350.0v7M255.0 342.5h7M258.5 339.0v7M255.0 334.5h7M258.5 331.0v7M255.0 369.5h7M258.5 366.0v7M256.0 335.5h7M259.5 332.0v7M256.0 358.5h7M259.5 355.0v7M256.0 349.5h7M259.5 346.0v7M257.0 356.5h7M260.5 353.0v7M257.0 353.5h7M260.5 350.0v7M257.0 349.5h7M260.5 346.0v7M258.0 341.5h7M261.5 338.0v7M258.0 340.5h7M261.5 337.0v7M258.0 359.5h7M261.5 356.0v7M259.0 354.5h7M262.5 351.0v7M259.0 348.5h7M262.5 345.0v7M259.0 351.5h7M262.5 348.0v7M260.0 340.5h7M263.5 337.0v7M260.0 359.5h7M263.5 356.0v7M260.0 362.5h7M263.5 359.0v7M261.0 341.5h7M264.5 338.0v7M261.0 350.5h7M264.5 347.0v7M261.0 360.5h7M264.5 357.0v7M262.0 343.5h7M265.5 340.0v7M262.0 369.5h7M265.5 366.0v7M262.0 364.5h7M265.5 361.0v7M263.0 346.5h7M266.5 343.0v7M263.0 358.5h7M266.5 355.0v7M263.0 365.5h7M266.5 362.0v7M264.0 336.5h7M267.5 333.0v7M264.0 354.5h7M267.5 351.0v7M264.0 347.5h7M267.5 344.0v7M265.0 346.5h7M268.5 343.0v7M265.0 355.5h7M268.5 352.0v7M265.0 343.5h7M268.5 340.0v7M265.0 334.5h7M268.5 331.0v7M266.0 334.5h7M269.5 331.0v7M266.0 348.5h7M269.5 345.0v7M266.0 354.5h7M269.5 351.0v7M267.0 347.5h7M270.5 344.0v7M267.0 346.5h7M270.5 343.0v7M267.0 347.5h7M270.5 344.0v7M268.0 360.5h7M271.5 357.0v7M268.0 352.5h7M271.5 349.0v7M268.0 340.5h7M271.5 337.0v7M269.0 344.5h7M272.5 341.0v7M269.0 359.5h7M272.5 356.0v7M269.0 341.5h7M272.5 338.0v7M270.0 343.5h7M273.5 340.0v7M270.0 346.5h7M273.5 343.0v7M270.0 336.5h7M273.5 333.0v7M271.0 355.5h7M274.5 352.0v7M271.0 325.5h7M274.5 322.0v7M271.0 360.5h7M274.5 357.0v7M272.0 342.5h7M275.5 339.0v7M272.0 334.5h7M275.5 331.0v7M272.0 349.5h7M275.5 346.0v7M273.0 329.5h7M276.5 326.0v7M273.0 351.5h7M276.5 348.0v7M273.0 353.5h7M276.5 350.0v7M274.0 340.5h7M277.5 337.0v7M274.0 342.5h7M277.5 339.0v7M274.0 355.5h7M277.5 352.0v7M275.0 339.5h7M278.5 336.0v7M275.0 345.5h7M278.5 342.0v7M275.0 348.5h7M278.5 345.0v7M276.0 360.5h7M279.5 357.0v7M276.0 340.5h7M279.5 337.0v7M276.0 345.5h7M279.5 342.0v7M277.0 356.5h7M280.5 353.0v7M277.0 342.5h7M280.5 339.0v7M277.0 326.5h7M280.5 323.0v7M278.0 327.5h7M281.5 324.0v7M278.0 363.5h7M281.5 360.0v7M278.0 346.5h7M281.5 343.0v7M279.0 358.5h7M282.5 355.0v7M279.0 342.5h7M282.5 339.0v7M279.0 349.5h7M282.5 346.0v7M280.0 340.5h7M283.5 337.0v7M280.0 339.5h7M283.5 336.0v7M280.0 343.5h7M283.5 340.0v7M281.0 345.5h7M284.5 342.0v7M281.0 358.5h7M284.5 355.0v7M281.0 342.5h7M284.5 339.0v7M282.0 347.5h7M285.5 344.0v7M282.0 341.5h7M285.5 338.0v7M282.0 345.5h7M285.5 342.0v7M283.0 331.5h7M286.5 328.0v7M283.0 353.5h7M286.5 350.0v7M283.0 338.5h7M286.5 335.0v7M284.0 343.5h7M287.5 340.0v7M284.0 341.5h7M287.5 338.0v7M284.0 352.5h7M287.5 349.0v7M285.0 347.5h7M288.5 344.0v7M285.0 343.5h7M288.5 340.0v7M285.0 344.5h7M288.5 341.0v7M286.0 345.5h7M289.5 342.0v7M286.0 349.5h7M289.5 346.0v7M286.0 347.5h7M289.5 344.0v7M287.0 354.5h7M290.5 351.0v7M287.0 357.5h7M290.5 354.0v7M287.0 348.5h7M290.5 345.0v7M288.0 329.5h7M291.5 326.0v7M288.0 358.5h7M291.5 355.0v7M288.0 361.5h7M291.5 358.0v7M289.0 338.5h7M292.5 335.0v7M289.0 338.5h7M292.5 335.0v7M289.0 322.5h7M292.5 319.0v7M290.0 348.5h7M293.5 345.0v7M290.0 332.5h7M293.5 329.0v7M290.0 358.5h7M293.5 355.0v7M291.0 342.5h7M294.5 339.0v7M291.0 347.5h7M294.5 344.0v7M291.0 337.5h7M294.5 334.0v7M292.0 334.5h7M295.5 331.0v7M292.0 343.5h7M295.5 340.0v7M292.0 336.5h7M295.5 333.0v7M293.0 338.5h7M296.5 335.0v7M293.0 340.5h7M296.5 337.0v7M293.0 335.5h7M296.5 332.0v7M294.0 338.5h7M297.5 335.0v7M294.0 348.5h7M297.5 345.0v7M294.0 337.5h7M297.5 334.0v7M295.0 342.5h7M298.5 339.0v7M295.0 333.5h7M298.5 330.0v7M295.0 348.5h7M298.5 345.0v7M296.0 328.5h7M299.5 325.0v7M296.0 349.5h7M299.5 346.0v7M296.0 332.5h7M299.5 329.0v7M297.0 326.5h7M300.5 323.0v7M297.0 349.5h7M300.5 346.0v7M297.0 342.5h7M300.5 339.0v7M298.0 328.5h7M301.5 325.0v7M298.0 334.5h7M301.5 331.0v7M298.0 351.5h7M301.5 348.0v7M299.0 339.5h7M302.5 336.0v7M299.0 344.5h7M302.5 341.0v7M299.0 326.5h7M302.5 323.0v7M300.0 326.5h7M303.5 323.0v7M300.0 344.5h7M303.5 341.0v7M300.0 359.5h7M303.5 356.0v7M301.0 334.5h7M304.5 331.0v7M301.0 344.5h7M304.5 341.0v7M301.0 330.5h7M304.5 327.0v7M302.0 350.5h7M305.5 347.0v7M302.0 334.5h7M305.5 331.0v7M302.0 335.5h7M305.5 332.0v7M303.0 322.5h7M306.5 319.0v7M303.0 335.5h7M306.5 332.0v7M303.0 340.5h7M306.5 337.0v7M304.0 350.5h7M307.5 347.0v7M304.0 328.5h7M307.5 325.0v7M304.0 347.5h7M307.5 344.0v7M305.0 335.5h7M308.5 332.0v7M305.0 335.5h7M308.5 332.0v7M305.0 329.5h7M308.5 326.0v7M306.0 323.5h7M309.5 320.0v7M306.0 327.5h7M309.5 324.0v7M306.0 352.5h7M309.5 349.0v7M307.0 327.5h7M310.5 324.0v7M307.0 333.5h7M310.5 330.0v7M307.0 347.5h7M310.5 344.0v7M308.0 319.5h7M311.5 316.0v7M308.0 341.5h7M311.5 338.0v7M308.0 332.5h7M311.5 329.0v7M309.0 338.5h7M312.5 335.0v7M309.0 343.5h7M312.5 340.0v7M309.0 334.5h7M312.5 331.0v7M310.0 334.5h7M313.5 331.0v7M310.0 341.5h7M313.5 338.0v7M310.0 340.5h7M313.5 337.0v7M311.0 328.5h7M314.5 325.0v7M311.0 333.5h7M314.5 330.0v7M311.0 322.5h7M314.5 319.0v7M312.0 345.5h7M315.5 342.0v7M312.0 323.5h7M315.5 320.0v7M312.0 335.5h7M315.5 332.0v7M313.0 347.5h7M316.5 344.0v7M313.0 339.5h7M316.5 336.0v7M313.0 330.5h7M316.5 327.0v7M314.0 326.5h7M317.5 323.0v7M314.0 326.5h7M317.5 323.0v7M314.0 339.5h7M317.5 336.0v7M315.0 334.5h7M318.5 331.0v7M315.0 331.5h7M318.5 328.0v7M315.0 324.5h7M318.5 321.0v7M316.0 326.5h7M319.5 323.0v7M316.0 327.5h7M319.5 324.0v7M316.0 332.5h7M319.5 329.0v7M317.0 332.5h7M320.5 329.0v7M317.0 327.5h7M320.5 324.0v7M317.0 335.5h7M320.5 332.0v7M317.0 333.5h7M320.5 330.0v7M318.0 326.5h7M321.5 323.0v7M318.0 334.5h7M321.5 331.0v7M318.0 320.5h7M321.5 317.0v7M319.0 322.5h7M322.5 319.0v7M319.0 326.5h7M322.5 323.0v7M319.0 317.5h7M322.5 314.0v7M320.0 320.5h7M323.5 317.0v7M320.0 327.5h7M323.5 324.0v7M320.0 323.5h7M323.5 320.0v7M321.0 328.5h7M324.5 325.0v7M321.0 318.5h7M324.5 315.0v7M321.0 323.5h7M324.5 320.0v7M322.0 316.5h7M325.5 313.0v7M322.0 322.5h7M325.5 319.0v7M322.0 326.5h7M325.5 323.0v7M323.0 322.5h7M326.5 319.0v7M323.0 312.5h7M326.5 309.0v7M323.0 321.5h7M326.5 318.0v7M324.0 324.5h7M327.5 321.0v7M324.0 331.5h7M327.5 328.0v7M324.0 322.5h7M327.5 319.0v7M325.0 319.5h7M328.5 316.0v7M325.0 312.5h7M328.5 309.0v7M325.0 337.5h7M328.5 334.0v7M326.0 314.5h7M329.5 311.0v7M326.0 312.5h7M329.5 309.0v7M326.0 319.5h7M329.5 316.0v7M327.0 306.5h7M330.5 303.0v7M327.0 329.5h7M330.5 326.0v7M327.0 321.5h7M330.5 318.0v7M328.0 323.5h7M331.5 320.0v7M328.0 311.5h7M331.5 308.0v7M328.0 315.5h7M331.5 312.0v7M329.0 325.5h7M332.5 322.0v7M329.0 326.5h7M332.5 323.0v7M329.0 327.5h7M332.5 324.0v7M330.0 303.5h7M333.5 300.0v7M330.0 318.5h7M333.5 315.0v7M330.0 315.5h7M333.5 312.0v7M331.0 326.5h7M334.5 323.0v7M331.0 316.5h7M334.5 313.0v7M331.0 320.5h7M334.5 317.0v7M332.0 314.5h7M335.5 311.0v7M332.0 321.5h7M335.5 318.0v7M332.0 327.5h7M335.5 324.0v7M333.0 311.5h7M336.5 308.0v7M333.0 299.5h7M336.5 296.0v7M333.0 307.5h7M336.5 304.0v7M334.0 327.5h7M337.5 324.0v7M334.0 316.5h7M337.5 313.0v7M334.0 312.5h7M337.5 309.0v7M335.0 307.5h7M338.5 304.0v7M335.0 322.5h7M338.5 319.0v7M335.0 316.5h7M338.5 313.0v7M336.0 313.5h7M339.5 310.0v7M336.0 310.5h7M339.5 307.0v7M336.0 312.5h7M339.5 309.0v7M337.0 311.5h7M340.5 308.0v7M337.0 318.5h7M340.5 315.0v7M337.0 323.5h7M340.5 320.0v7M338.0 298.5h7M341.5 295.0v7M338.0 302.5h7M341.5 299.0v7M338.0 313.5h7M341.5 310.0v7M339.0 314.5h7M342.5 311.0v7M339.0 301.5h7M342.5 298.0v7M339.0 308.5h7M342.5 305.0v7M340.0 310.5h7M343.5 307.0v7M340.0 310.5h7M343.5 307.0v7M340.0 309.5h7M343.5 306.0v7M341.0 312.5h7M344.5 309.0v7M341.0 320.5h7M344.5 317.0v7M341.0 318.5h7M344.5 315.0v7M342.0 317.5h7M345.5 314.0v7M342.0 315.5h7M345.5 312.0v7M342.0 307.5h7M345.5 304.0v7M343.0 309.5h7M346.5 306.0v7M343.0 318.5h7M346.5 315.0v7M343.0 313.5h7M346.5 310.0v7M344.0 318.5h7M347.5 315.0v7M344.0 314.5h7M347.5 311.0v7M344.0 313.5h7M347.5 310.0v7M345.0 315.5h7M348.5 312.0v7M345.0 300.5h7M348.5 297.0v7M345.0 311.5h7M348.5 308.0v7M346.0 307.5h7M349.5 304.0v7M346.0 318.5h7M349.5 315.0v7M346.0 307.5h7M349.5 304.0v7M347.0 313.5h7M350.5 310.0v7M347.0 308.5h7M350.5 305.0v7M347.0 315.5h7M350.5 312.0v7M348.0 317.5h7M351.5 314.0v7M348.0 310.5h7M351.5 307.0v7M348.0 312.5h7M351.5 309.0v7M349.0 313.5h7M352.5 310.0v7M349.0 318.5h7M352.5 315.0v7M349.0 309.5h7M352.5 306.0v7M350.0 312.5h7M353.5 309.0v7M350.0 308.5h7M353.5 305.0v7M350.0 304.5h7M353.5 301.0v7M351.0 313.5h7M354.5 310.0v7M351.0 315.5h7M354.5 312.0v7M351.0 306.5h7M354.5 303.0v7M352.0 324.5h7M355.5 321.0v7M352.0 306.5h7M355.5 303.0v7M352.0 318.5h7M355.5 315.0v7M353.0 315.5h7M356.5 312.0v7M353.0 299.5h7M356.5 296.0v7M353.0 312.5h7M356.5 309.0v7M354.0 300.5h7M357.5 297.0v7M354.0 311.5h7M357.5 308.0v7M354.0 317.5h7M357.5 314.0v7M355.0 326.5h7M358.5 323.0v7M355.0 318.5h7M358.5 315.0v7M355.0 300.5h7M358.5 297.0v7M356.0 309.5h7M359.5 306.0v7M356.0 323.5h7M359.5 320.0v7M356.0 313.5h7M359.5 310.0v7M357.0 326.5h7M360.5 323.0v7M357.0 307.5h7M360.5 304.0v7M357.0 308.5h7M360.5 305.0v7M358.0 302.5h7M361.5 299.0v7M358.0 309.5h7M361.5 306.0v7M358.0 322.5h7M361.5 319.0v7M359.0 305.5h7M362.5 302.0v7M359.0 319.5h7M362.5 316.0v7M359.0 316.5h7M362.5 313.0v7M360.0 318.5h7M363.5 315.0v7M360.0 310.5h7M363.5 307.0v7M360.0 313.5h7M363.5 310.0v7M361.0 329.5h7M364.5 326.0v7M361.0 303.5h7M364.5 300.0v7M361.0 318.5h7M364.5 315.0v7M362.0 324.5h7M365.5 321.0v7M362.0 316.5h7M365.5 313.0v7M362.0 325.5h7M365.5 322.0v7M363.0 310.5h7M366.5 307.0v7M363.0 304.5h7M366.5 301.0v7M363.0 309.5h7M366.5 306.0v7M364.0 312.5h7M367.5 309.0v7M364.0 316.5h7M367.5 313.0v7M364.0 306.5h7M367.5 303.0v7M365.0 319.5h7M368.5 316.0v7M365.0 301.5h7M368.5 298.0v7M365.0 320.5h7M368.5 317.0v7M366.0 311.5h7M369.5 308.0v7M366.0 299.5h7M369.5 296.0v7M366.0 299.5h7M369.5 296.0v7M367.0 299.5h7M370.5 296.0v7M367.0 305.5h7M370.5 302.0v7M367.0 314.5h7M370.5 311.0v7M368.0 323.5h7M371.5 320.0v7M368.0 319.5h7M371.5 316.0v7M368.0 303.5h7M371.5 300.0v7M369.0 310.5h7M372.5 307.0v7M369.0 302.5h7M372.5 299.0v7M369.0 311.5h7M372.5 308.0v7M370.0 307.5h7M373.5 304.0v7M370.0 300.5h7M373.5 297.0v7M370.0 315.5h7M373.5 312.0v7M371.0 327.5h7M374.5 324.0v7M371.0 310.5h7M374.5 307.0v7M371.0 307.5h7M374.5 304.0v7M371.0 326.5h7M374.5 323.0v7M372.0 297.5h7M375.5 294.0v7M372.0 300.5h7M375.5 297.0v7M372.0 303.5h7M375.5 300.0v7M373.0 316.5h7M376.5 313.0v7M373.0 319.5h7M376.5 316.0v7M373.0 312.5h7M376.5 309.0v7M374.0 329.5h7M377.5 326.0v7M374.0 311.5h7M377.5 308.0v7M374.0 313.5h7M377.5 310.0v7M375.0 311.5h7M378.5 308.0v7M375.0 322.5h7M378.5 319.0v7M375.0 313.5h7M378.5 310.0v7M376.0 310.5h7M379.5 307.0v7M376.0 326.5h7M379.5 323.0v7M376.0 323.5h7M379.5 320.0v7M377.0 321.5h7M380.5 318.0v7M377.0 304.5h7M380.5 301.0v7M377.0 305.5h7M380.5 302.0v7M378.0 312.5h7M381.5 309.0v7M378.0 311.5h7M381.5 308.0v7M378.0 310.5h7M381.5 307.0v7M379.0 312.5h7M382.5 309.0v7M379.0 319.5h7M382.5 316.0v7M379.0 306.5h7M382.5 303.0v7M380.0 316.5h7M383.5 313.0v7M380.0 311.5h7M383.5 308.0v7M380.0 310.5h7M383.5 307.0v7M381.0 312.5h7M384.5 309.0v7M381.0 320.5h7M384.5 317.0v7M381.0 316.5h7M384.5 313.0v7M382.0 308.5h7M385.5 305.0v7M382.0 317.5h7M385.5 314.0v7M382.0 315.5h7M385.5 312.0v7M383.0 317.5h7M386.5 314.0v7M383.0 312.5h7M386.5 309.0v7M383.0 322.5h7M386.5 319.0v7M384.0 317.5h7M387.5 314.0v7M384.0 306.5h7M387.5 303.0v7M384.0 305.5h7M387.5 302.0v7M385.0 304.5h7M388.5 301.0v7M385.0 318.5h7M388.5 315.0v7M385.0 309.5h7M388.5 306.0v7M386.0 312.5h7M389.5 309.0v7M386.0 314.5h7M389.5 311.0v7M386.0 324.5h7M389.5 321.0v7M387.0 331.5h7M390.5 328.0v7M387.0 314.5h7M390.5 311.0v7M387.0 330.5h7M390.5 327.0v7M388.0 319.5h7M391.5 316.0v7M388.0 324.5h7M391.5 321.0v7M388.0 313.5h7M391.5 310.0v7M389.0 305.5h7M392.5 302.0v7M389.0 319.5h7M392.5 316.0v7M389.0 325.5h7M392.5 322.0v7M390.0 303.5h7M393.5 300.0v7M390.0 315.5h7M393.5 312.0v7M390.0 317.5h7M393.5 314.0v7M391.0 320.5h7M394.5 317.0v7M391.0 307.5h7M394.5 304.0v7M391.0 311.5h7M394.5 308.0v7M392.0 322.5h7M395.5 319.0v7M392.0 329.5h7M395.5 326.0v7M392.0 316.5h7M395.5 313.0v7M393.0 323.5h7M396.5 320.0v7M393.0 317.5h7M396.5 314.0v7M393.0 319.5h7M396.5 316.0v7M394.0 312.5h7M397.5 309.0v7M394.0 314.5h7M397.5 311.0v7M394.0 311.5h7M397.5 308.0v7M395.0 316.5h7M398.5 313.0v7M395.0 324.5h7M398.5 321.0v7M395.0 317.5h7M398.5 314.0v7M396.0 320.5h7M399.5 317.0v7M396.0 311.5h7M399.5 308.0v7M396.0 321.5h7M399.5 318.0v7M397.0 305.5h7M400.5 302.0v7M397.0 313.5h7M400.5 310.0v7M397.0 302.5h7M400.5 299.0v7M398.0 320.5h7M401.5 317.0v7M398.0 317.5h7M401.5 314.0v7M398.0 309.5h7M401.5 306.0v7M399.0 317.5h7M402.5 314.0v7M399.0 304.5h7M402.5 301.0v7M399.0 309.5h7M402.5 306.0v7M400.0 313.5h7M403.5 310.0v7M400.0 304.5h7M403.5 301.0v7M400.0 324.5h7M403.5 321.0v7M401.0 311.5h7M404.5 308.0v7M401.0 324.5h7M404.5 321.0v7M401.0 315.5h7M404.5 312.0v7M402.0 319.5h7M405.5 316.0v7M402.0 310.5h7M405.5 307.0v7M402.0 314.5h7M405.5 311.0v7M403.0 313.5h7M406.5 310.0v7M403.0 319.5h7M406.5 316.0v7M403.0 327.5h7M406.5 324.0v7M404.0 313.5h7M407.5 310.0v7M404.0 316.5h7M407.5 313.0v7M404.0 320.5h7M407.5 317.0v7M405.0 324.5h7M408.5 321.0v7M405.0 316.5h7M408.5 313.0v7M405.0 314.5h7M408.5 311.0v7M406.0 313.5h7M409.5 310.0v7M406.0 317.5h7M409.5 314.0v7M406.0 319.5h7M409.5 316.0v7M407.0 312.5h7M410.5 309.0v7M407.0 315.5h7M410.5 312.0v7M407.0 323.5h7M410.5 320.0v7M408.0 318.5h7M411.5 315.0v7M408.0 313.5h7M411.5 310.0v7M408.0 323.5h7M411.5 320.0v7M409.0 323.5h7M412.5 320.0v7M409.0 323.5h7M412.5 320.0v7M409.0 323.5h7M412.5 320.0v7M410.0 315.5h7M413.5 312.0v7M410.0 320.5h7M413.5 317.0v7M410.0 321.5h7M413.5 318.0v7M411.0 319.5h7M414.5 316.0v7M411.0 305.5h7M414.5 302.0v7M411.0 318.5h7M414.5 315.0v7M412.0 321.5h7M415.5 318.0v7M412.0 322.5h7M415.5 319.0v7M412.0 316.5h7M415.5 313.0v7M413.0 319.5h7M416.5 316.0v7M413.0 304.5h7M416.5 301.0v7M413.0 307.5h7M416.5 304.0v7M414.0 316.5h7M417.5 313.0v7M414.0 331.5h7M417.5 328.0v7M414.0 332.5h7M417.5 329.0v7M415.0 309.5h7M418.5 306.0v7M415.0 323.5h7M418.5 320.0v7M415.0 328.5h7M418.5 325.0v7M416.0 315.5h7M419.5 312.0v7M416.0 302.5h7M419.5 299.0v7M416.0 329.5h7M419.5 326.0v7M417.0 315.5h7M420.5 312.0v7M417.0 315.5h7M420.5 312.0v7M417.0 331.5h7M420.5 328.0v7M418.0 321.5h7M421.5 318.0v7M418.0 324.5h7M421.5 321.0v7M418.0 330.5h7M421.5 327.0v7M419.0 316.5h7M422.5 313.0v7M419.0 310.5h7M422.5 307.0v7M419.0 324.5h7M422.5 321.0v7M420.0 317.5h7M423.5 314.0v7M420.0 323.5h7M423.5 320.0v7M420.0 321.5h7M423.5 318.0v7M421.0 311.5h7M424.5 308.0v7M421.0 317.5h7M424.5 314.0v7M421.0 314.5h7M424.5 311.0v7M422.0 315.5h7M425.5 312.0v7M422.0 317.5h7M425.5 314.0v7M422.0 320.5h7M425.5 317.0v7M423.0 319.5h7M426.5 316.0v7M423.0 307.5h7M426.5 304.0v7M423.0 322.5h7M426.5 319.0v7M423.0 305.5h7M426.5 302.0v7M424.0 335.5h7M427.5 332.0v7M424.0 310.5h7M427.5 307.0v7M424.0 316.5h7M427.5 313.0v7M425.0 328.5h7M428.5 325.0v7M425.0 315.5h7M428.5 312.0v7M425.0 306.5h7M428.5 303.0v7M426.0 305.5h7M429.5 302.0v7M426.0 319.5h7M429.5 316.0v7M426.0 320.5h7M429.5 317.0v7M427.0 323.5h7M430.5 320.0v7M427.0 319.5h7M430.5 316.0v7M427.0 312.5h7M430.5 309.0v7M428.0 320.5h7M431.5 317.0v7M428.0 329.5h7M431.5 326.0v7M428.0 309.5h7M431.5 306.0v7M429.0 313.5h7M432.5 310.0v7M429.0 327.5h7M432.5 324.0v7M429.0 332.5h7M432.5 329.0v7M430.0 324.5h7M433.5 321.0v7M430.0 319.5h7M433.5 316.0v7M430.0 322.5h7M433.5 319.0v7M431.0 327.5h7M434.5 324.0v7M431.0 320.5h7M434.5 317.0v7M431.0 312.5h7M434.5 309.0v7M432.0 310.5h7M435.5 307.0v7M432.0 317.5h7M435.5 314.0v7M432.0 317.5h7M435.5 314.0v7M433.0 320.5h7M436.5 317.0v7M433.0 310.5h7M436.5 307.0v7M433.0 325.5h7M436.5 322.0v7M434.0 297.5h7M437.5 294.0v7M434.0 306.5h7M437.5 303.0v7M434.0 304.5h7M437.5 301.0v7M435.0 315.5h7M438.5 312.0v7M435.0 310.5h7M438.5 307.0v7M435.0 319.5h7M438.5 316.0v7M436.0 307.5h7M439.5 304.0v7M436.0 325.5h7M439.5 322.0v7M436.0 320.5h7M439.5 317.0v7M437.0 308.5h7M440.5 305.0v7M437.0 298.5h7M440.5 295.0v7M437.0 302.5h7M440.5 299.0v7M438.0 298.5h7M441.5 295.0v7M438.0 323.5h7M441.5 320.0v7M438.0 319.5h7M441.5 316.0v7M439.0 300.5h7M442.5 297.0v7M439.0 329.5h7M442.5 326.0v7M439.0 309.5h7M442.5 306.0v7M440.0 291.5h7M443.5 288.0v7M440.0 321.5h7M443.5 318.0v7M440.0 323.5h7M443.5 320.0v7M441.0 311.5h7M444.5 308.0v7M441.0 302.5h7M444.5 299.0v7M441.0 322.5h7M444.5 319.0v7M442.0 305.5h7M445.5 302.0v7M442.0 310.5h7M445.5 307.0v7M442.0 314.5h7M445.5 311.0v7M443.0 312.5h7M446.5 309.0v7M443.0 305.5h7M446.5 302.0v7M443.0 299.5h7M446.5 296.0v7M444.0 316.5h7M447.5 313.0v7M444.0 288.5h7M447.5 285.0v7M444.0 311.5h7M447.5 308.0v7M445.0 311.5h7M448.5 308.0v7M445.0 313.5h7M448.5 310.0v7M445.0 304.5h7M448.5 301.0v7M446.0 310.5h7M449.5 307.0v7M446.0 315.5h7M449.5 312.0v7M446.0 297.5h7M449.5 294.0v7M447.0 307.5h7M450.5 304.0v7M447.0 310.5h7M450.5 307.0v7M447.0 294.5h7M450.5 291.0v7M448.0 297.5h7M451.5 294.0v7M448.0 321.5h7M451.5 318.0v7M448.0 316.5h7M451.5 313.0v7M449.0 298.5h7M452.5 295.0v7M449.0 312.5h7M452.5 309.0v7M449.0 309.5h7M452.5 306.0v7M450.0 318.5h7M453.5 315.0v7M450.0 316.5h7M453.5 313.0v7M450.0 301.5h7M453.5 298.0v7M451.0 318.5h7M454.5 315.0v7M451.0 320.5h7M454.5 317.0v7M451.0 298.5h7M454.5 295.0v7M452.0 291.5h7M455.5 288.0v7M452.0 306.5h7M455.5 303.0v7M452.0 297.5h7M455.5 294.0v7M453.0 303.5h7M456.5 300.0v7M453.0 291.5h7M456.5 288.0v7M453.0 310.5h7M456.5 307.0v7M454.0 308.5h7M457.5 305.0v7M454.0 306.5h7M457.5 303.0v7M454.0 290.5h7M457.5 287.0v7M455.0 284.5h7M458.5 281.0v7M455.0 288.5h7M458.5 285.0v7M455.0 306.5h7M458.5 303.0v7M456.0 282.5h7M459.5 279.0v7M456.0 307.5h7M459.5 304.0v7M456.0 318.5h7M459.5 315.0v7M457.0 293.5h7M460.5 290.0v7M457.0 298.5h7M460.5 295.0v7M457.0 309.5h7M460.5 306.0v7M458.0 309.5h7M461.5 306.0v7M458.0 293.5h7M461.5 290.0v7M458.0 297.5h7M461.5 294.0v7M459.0 300.5h7M462.5 297.0v7M459.0 296.5h7M462.5 293.0v7M459.0 304.5h7M462.5 301.0v7M460.0 302.5h7M463.5 299.0v7M460.0 312.5h7M463.5 309.0v7M460.0 280.5h7M463.5 277.0v7M461.0 310.5h7M464.5 307.0v7M461.0 306.5h7M464.5 303.0v7M461.0 296.5h7M464.5 293.0v7M462.0 302.5h7M465.5 299.0v7M462.0 308.5h7M465.5 305.0v7M462.0 301.5h7M465.5 298.0v7M463.0 295.5h7M466.5 292.0v7M463.0 300.5h7M466.5 297.0v7M463.0 290.5h7M466.5 287.0v7M464.0 283.5h7M467.5 280.0v7M464.0 288.5h7M467.5 285.0v7M464.0 289.5h7M467.5 286.0v7M465.0 299.5h7M468.5 296.0v7M465.0 305.5h7M468.5 302.0v7M465.0 299.5h7M468.5 296.0v7M466.0 312.5h7M469.5 309.0v7M466.0 295.5h7M469.5 292.0v7M466.0 289.5h7M469.5 286.0v7M467.0 288.5h7M470.5 285.0v7M467.0 287.5h7M470.5 284.0v7M467.0 293.5h7M470.5 290.0v7M468.0 311.5h7M471.5 308.0v7M468.0 280.5h7M471.5 277.0v7M468.0 302.5h7M471.5 299.0v7M469.0 295.5h7M472.5 292.0v7M469.0 305.5h7M472.5 302.0v7M469.0 290.5h7M472.5 287.0v7M470.0 303.5h7M473.5 300.0v7M470.0 290.5h7M473.5 287.0v7M470.0 302.5h7M473.5 299.0v7M471.0 274.5h7M474.5 271.0v7M471.0 300.5h7M474.5 297.0v7M471.0 303.5h7M474.5 300.0v7M472.0 278.5h7M475.5 275.0v7M472.0 304.5h7M475.5 301.0v7M472.0 282.5h7M475.5 279.0v7M473.0 305.5h7M476.5 302.0v7M473.0 295.5h7M476.5 292.0v7M473.0 302.5h7M476.5 299.0v7M474.0 299.5h7M477.5 296.0v7M474.0 281.5h7M477.5 278.0v7M474.0 311.5h7M477.5 308.0v7M475.0 308.5h7M478.5 305.0v7M475.0 283.5h7M478.5 280.0v7M475.0 300.5h7M478.5 297.0v7M476.0 299.5h7M479.5 296.0v7M476.0 286.5h7M479.5 283.0v7M476.0 282.5h7M479.5 279.0v7M477.0 308.5h7M480.5 305.0v7M477.0 289.5h7M480.5 286.0v7M477.0 304.5h7M480.5 301.0v7M477.0 315.5h7M480.5 312.0v7M478.0 299.5h7M481.5 296.0v7M478.0 284.5h7M481.5 281.0v7M478.0 305.5h7M481.5 302.0v7M479.0 279.5h7M482.5 276.0v7M479.0 284.5h7M482.5 281.0v7M479.0 285.5h7M482.5 282.0v7M480.0 298.5h7M483.5 295.0v7M480.0 282.5h7M483.5 279.0v7M480.0 292.5h7M483.5 289.0v7M481.0 296.5h7M484.5 293.0v7M481.0 287.5h7M484.5 284.0v7M481.0 301.5h7M484.5 298.0v7M482.0 303.5h7M485.5 300.0v7M482.0 297.5h7M485.5 294.0v7M482.0 283.5h7M485.5 280.0v7M483.0 298.5h7M486.5 295.0v7M483.0 288.5h7M486.5 285.0v7M483.0 285.5h7M486.5 282.0v7M484.0 294.5h7M487.5 291.0v7M484.0 284.5h7M487.5 281.0v7M484.0 305.5h7M487.5 302.0v7M485.0 296.5h7M488.5 293.0v7M485.0 277.5h7M488.5 274.0v7M485.0 283.5h7M488.5 280.0v7M486.0 292.5h7M489.5 289.0v7M486.0 288.5h7M489.5 285.0v7M486.0 296.5h7M489.5 293.0v7M487.0 283.5h7M490.5 280.0v7M487.0 282.5h7M490.5 279.0v7M487.0 304.5h7M490.5 301.0v7M488.0 293.5h7M491.5 290.0v7M488.0 284.5h7M491.5 281.0v7M488.0 293.5h7M491.5 290.0v7M489.0 314.5h7M492.5 311.0v7M489.0 287.5h7M492.5 284.0v7M489.0 277.5h7M492.5 274.0v7M490.0 304.5h7M493.5 301.0v7M490.0 315.5h7M493.5 312.0v7M490.0 307.5h7M493.5 304.0v7M491.0 279.5h7M494.5 276.0v7M491.0 271.5h7M494.5 268.0v7M491.0 288.5h7M494.5 285.0v7M492.0 305.5h7M495.5 302.0v7M492.0 293.5h7M495.5 290.0v7M492.0 300.5h7M495.5 297.0v7M493.0 302.5h7M496.5 299.0v7M493.0 301.5h7M496.5 298.0v7M493.0 294.5h7M496.5 291.0v7M494.0 283.5h7M497.5 280.0v7M494.0 288.5h7M497.5 285.0v7M494.0 283.5h7M497.5 280.0v7M495.0 271.5h7M498.5 268.0v7M495.0 292.5h7M498.5 289.0v7M495.0 280.5h7M498.5 277.0v7M496.0 279.5h7M499.5 276.0v7M496.0 275.5h7M499.5 272.0v7M496.0 297.5h7M499.5 294.0v7M497.0 305.5h7M500.5 302.0v7M497.0 296.5h7M500.5 293.0v7M497.0 276.5h7M500.5 273.0v7M498.0 273.5h7M501.5 270.0v7M498.0 301.5h7M501.5 298.0v7M498.0 289.5h7M501.5 286.0v7M499.0 291.5h7M502.5 288.0v7M499.0 278.5h7M502.5 275.0v7M499.0 270.5h7M502.5 267.0v7M500.0 317.5h7M503.5 314.0v7M500.0 294.5h7M503.5 291.0v7M500.0 298.5h7M503.5 295.0v7M501.0 276.5h7M504.5 273.0v7M501.0 283.5h7M504.5 280.0v7M501.0 289.5h7M504.5 286.0v7M502.0 303.5h7M505.5 300.0v7M502.0 277.5h7M505.5 274.0v7M502.0 296.5h7M505.5 293.0v7M503.0 287.5h7M506.5 284.0v7M503.0 296.5h7M506.5 293.0v7M503.0 307.5h7M506.5 304.0v7M504.0 296.5h7M507.5 293.0v7M504.0 286.5h7M507.5 283.0v7M504.0 285.5h7M507.5 282.0v7M505.0 295.5h7M508.5 292.0v7M505.0 278.5h7M508.5 275.0v7M505.0 292.5h7M508.5 289.0v7M506.0 296.5h7M509.5 293.0v7M506.0 290.5h7M509.5 287.0v7M506.0 293.5h7M509.5 290.0v7M507.0 287.5h7M510.5 284.0v7M507.0 303.5h7M510.5 300.0v7M507.0 277.5h7M510.5 274.0v7M508.0 286.5h7M511.5 283.0v7M508.0 272.5h7M511.5 269.0v7M508.0 308.5h7M511.5 305.0v7M509.0 288.5h7M512.5 285.0v7M509.0 286.5h7M512.5 283.0v7M509.0 287.5h7M512.5 284.0v7M510.0 297.5h7M513.5 294.0v7M510.0 300.5h7M513.5 297.0v7M510.0 298.5h7M513.5 295.0v7M511.0 281.5h7M514.5 278.0v7M511.0 293.5h7M514.5 290.0v7M511.0 282.5h7M514.5 279.0v7M512.0 280.5h7M515.5 277.0v7M512.0 283.5h7M515.5 280.0v7M512.0 278.5h7M515.5 275.0v7M513.0 304.5h7M516.5 301.0v7M513.0 278.5h7M516.5 275.0v7M513.0 284.5h7M516.5 281.0v7M514.0 298.5h7M517.5 295.0v7M514.0 307.5h7M517.5 304.0v7M514.0 299.5h7M517.5 296.0v7M515.0 292.5h7M518.5 289.0v7M515.0 288.5h7M518.5 285.0v7M515.0 290.5h7M518.5 287.0v7M516.0 271.5h7M519.5 268.0v7M516.0 293.5h7M519.5 290.0v7M516.0 299.5h7M519.5 296.0v7M517.0 278.5h7M520.5 275.0v7M517.0 294.5h7M520.5 291.0v7M517.0 280.5h7M520.5 277.0v7M518.0 282.5h7M521.5 279.0v7M518.0 301.5h7M521.5 298.0v7M518.0 308.5h7M521.5 305.0v7M519.0 288.5h7M522.5 285.0v7M519.0 285.5h7M522.5 282.0v7M519.0 293.5h7M522.5 290.0v7M520.0 284.5h7M523.5 281.0v7M520.0 271.5h7M523.5 268.0v7M520.0 279.5h7M523.5 276.0v7M521.0 290.5h7M524.5 287.0v7M521.0 281.5h7M524.5 278.0v7M521.0 299.5h7M524.5 296.0v7M522.0 311.5h7M525.5 308.0v7M522.0 293.5h7M525.5 290.0v7M522.0 295.5h7M525.5 292.0v7M523.0 279.5h7M526.5 276.0v7M523.0 282.5h7M526.5 279.0v7M523.0 296.5h7M526.5 293.0v7M524.0 305.5h7M527.5 302.0v7M524.0 313.5h7M527.5 310.0v7M524.0 308.5h7M527.5 305.0v7M525.0 280.5h7M528.5 277.0v7M525.0 274.5h7M528.5 271.0v7M525.0 284.5h7M528.5 281.0v7M526.0 282.5h7M529.5 279.0v7M526.0 282.5h7M529.5 279.0v7M526.0 294.5h7M529.5 291.0v7M527.0 280.5h7M530.5 277.0v7M527.0 273.5h7M530.5 270.0v7M527.0 283.5h7M530.5 280.0v7M528.0 300.5h7M531.5 297.0v7M528.0 283.5h7M531.5 280.0v7M528.0 285.5h7M531.5 282.0v7M529.0 290.5h7M532.5 287.0v7M529.0 275.5h7M532.5 272.0v7M529.0 290.5h7M532.5 287.0v7M529.0 281.5h7M532.5 278.0v7M530.0 280.5h7M533.5 277.0v7M530.0 268.5h7M533.5 265.0v7M530.0 280.5h7M533.5 277.0v7M531.0 299.5h7M534.5 296.0v7M531.0 295.5h7M534.5 292.0v7M531.0 287.5h7M534.5 284.0v7M532.0 296.5h7M535.5 293.0v7M532.0 281.5h7M535.5 278.0v7M532.0 293.5h7M535.5 290.0v7M533.0 298.5h7M536.5 295.0v7M533.0 266.5h7M536.5 263.0v7M533.0 275.5h7M536.5 272.0v7M534.0 288.5h7M537.5 285.0v7M534.0 302.5h7M537.5 299.0v7M534.0 282.5h7M537.5 279.0v7M535.0 284.5h7M538.5 281.0v7M535.0 288.5h7M538.5 285.0v7M535.0 282.5h7M538.5 279.0v7M536.0 288.5h7M539.5 285.0v7M536.0 282.5h7M539.5 279.0v7M536.0 297.5h7M539.5 294.0v7M537.0 290.5h7M540.5 287.0v7M537.0 272.5h7M540.5 269.0v7M537.0 271.5h7M540.5 268.0v7M538.0 278.5h7M541.5 275.0v7M538.0 287.5h7M541.5 284.0v7M538.0 292.5h7M541.5 289.0v7M539.0 276.5h7M542.5 273.0v7M539.0 275.5h7M542.5 272.0v7M539.0 290.5h7M542.5 287.0v7M540.0 299.5h7M543.5 296.0v7M540.0 285.5h7M543.5 282.0v7M540.0 278.5h7M543.5 275.0v7M541.0 296.5h7M544.5 293.0v7M541.0 276.5h7M544.5 273.0v7M541.0 296.5h7M544.5 293.0v7M542.0 286.5h7M545.5 283.0v7M542.0 280.5h7M545.5 277.0v7M542.0 269.5h7M545.5 266.0v7M543.0 293.5h7M546.5 290.0v7M543.0 290.5h7M546.5 287.0v7M543.0 274.5h7M546.5 271.0v7M544.0 278.5h7M547.5 275.0v7M544.0 280.5h7M547.5 277.0v7M544.0 295.5h7M547.5 292.0v7M545.0 276.5h7M548.5 273.0v7M545.0 296.5h7M548.5 293.0v7M545.0 293.5h7M548.5 290.0v7M546.0 293.5h7M549.5 290.0v7M546.0 278.5h7M549.5 275.0v7M546.0 284.5h7M549.5 281.0v7M547.0 292.5h7M550.5 289.0v7M547.0 290.5h7M550.5 287.0v7M547.0 299.5h7M550.5 296.0v7M548.0 275.5h7M551.5 272.0v7M548.0 273.5h7M551.5 270.0v7M548.0 281.5h7M551.5 278.0v7M549.0 303.5h7M552.5 300.0v7M549.0 290.5h7M552.5 287.0v7M549.0 288.5h7M552.5 285.0v7M550.0 297.5h7M553.5 294.0v7M550.0 282.5h7M553.5 279.0v7M550.0 287.5h7M553.5 284.0v7M551.0 284.5h7M554.5 281.0v7M551.0 287.5h7M554.5 284.0v7M551.0 283.5h7M554.5 280.0v7M552.0 299.5h7M555.5 296.0v7M552.0 287.5h7M555.5 284.0v7M552.0 283.5h7M555.5 280.0v7M553.0 283.5h7M556.5 280.0v7M553.0 274.5h7M556.5 271.0v7M553.0 280.5h7M556.5 277.0v7M554.0 288.5h7M557.5 285.0v7M554.0 279.5h7M557.5 276.0v7M554.0 272.5h7M557.5 269.0v7M555.0 284.5h7M558.5 281.0v7M555.0 290.5h7M558.5 287.0v7M555.0 284.5h7M558.5 281.0v7M556.0 275.5h7M559.5 272.0v7M556.0 282.5h7M559.5 279.0v7M397.0 326.5h7M400.5 323.0v7M398.0 321.5h7M401.5 318.0v7M400.0 314.5h7M403.5 311.0v7M401.0 317.5h7M404.5 314.0v7M402.0 326.5h7M405.5 323.0v7M404.0 311.5h7M407.5 308.0v7M405.0 314.5h7M408.5 311.0v7M406.0 314.5h7M409.5 311.0v7M408.0 322.5h7M411.5 319.0v7M409.0 313.5h7M412.5 310.0v7M410.0 331.5h7M413.5 328.0v7M412.0 310.5h7M415.5 307.0v7M413.0 321.5h7M416.5 318.0v7M414.0 327.5h7M417.5 324.0v7M416.0 320.5h7M419.5 317.0v7M417.0 326.5h7M420.5 323.0v7M418.0 312.5h7M421.5 309.0v7M420.0 321.5h7M423.5 318.0v7M421.0 323.5h7M424.5 320.0v7M422.0 319.5h7M425.5 316.0v7M424.0 319.5h7M427.5 316.0v7M425.0 320.5h7M428.5 317.0v7M426.0 322.5h7M429.5 319.0v7M428.0 308.5h7M431.5 305.0v7M429.0 312.5h7M432.5 309.0v7M430.0 319.5h7M433.5 316.0v7M432.0 298.5h7M435.5 295.0v7M433.0 311.5h7M436.5 308.0v7M434.0 313.5h7M437.5 310.0v7M436.0 323.5h7M439.5 320.0v7M437.0 321.5h7M440.5 318.0v7M438.0 323.5h7M441.5 320.0v7M440.0 306.5h7M443.5 303.0v7M441.0 318.5h7M444.5 315.0v7M442.0 299.5h7M445.5 296.0v7M444.0 305.5h7M447.5 302.0v7M445.0 294.5h7M448.5 291.0v7M446.0 319.5h7M449.5 316.0v7M448.0 316.5h7M451.5 313.0v7M449.0 315.5h7M452.5 312.0v7"/>
<g stroke="#000" stroke-width="1" fill="none" shape-rendering="crispEdges">
<rect x="82.5" y="45.5" width="530.0" height="386.0"/>
<path d="M82.5 431.5h4.5M612.5 431.5h-4.5"/>
<path d="M82.5 376.5h4.5M612.5 376.5h-4.5"/>
<path d="M82.5 321.5h4.5M612.5 321.5h-4.5"/>
<path d="M82.5 267.5h4.5M612.5 267.5h-4.5"/>
<path d="M82.5 212.5h4.5M612.5 212.5h-4.5"/>
<path d="M82.5 158.5h4.5M612.5 158.5h-4.5"/>
<path d="M82.5 103.5h4.5M612.5 103.5h-4.5"/>
<path d="M82.5 49.5h4.5M612.5 49.5h-4.5"/>
<path d="M82.5 431.5v-4.5M82.5 45.5v4.5"/>
<path d="M135.5 431.5v-4.5M135.5 45.5v4.5"/>
<path d="M188.5 431.5v-4.5M188.5 45.5v4.5"/>
<path d="M241.5 431.5v-4.5M241.5 45.5v4.5"/>
<path d="M294.5 431.5v-4.5M294.5 45.5v4.5"/>
<path d="M347.5 431.5v-4.5M347.5 45.5v4.5"/>
<path d="M400.5 431.5v-4.5M400.5 45.5v4.5"/>
<path d="M453.5 431.5v-4.5M453.5 45.5v4.5"/>
<path d="M506.5 431.5v-4.5M506.5 45.5v4.5"/>
<path d="M559.5 431.5v-4.5M559.5 45.5v4.5"/>
<path d="M612.5 431.5v-4.5M612.5 45.5v4.5"/>
</g>
</svg></body></html>
